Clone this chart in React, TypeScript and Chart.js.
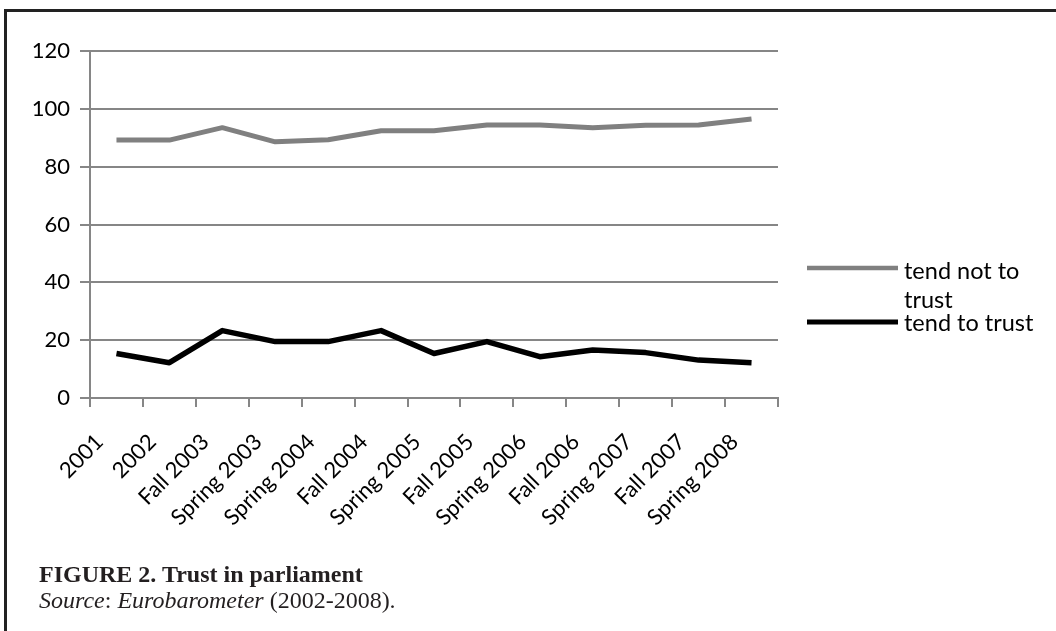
import React, { useEffect, useRef } from "react";
import { Chart, registerables } from "chart.js";

Chart.register(...registerables);

const categories = [
  "2001",
  "2002",
  "Fall 2003",
  "Spring 2003",
  "Spring 2004",
  "Fall 2004",
  "Spring 2005",
  "Fall 2005",
  "Spring 2006",
  "Fall 2006",
  "Spring 2007",
  "Fall 2007",
  "Spring 2008",
];
const tendNotToTrust = [89.2, 89.2, 93.5, 88.6, 89.3, 92.4, 92.4, 94.4, 94.4, 93.5, 94.3, 94.4, 96.5];
const tendToTrust = [15.4, 12.2, 23.3, 19.5, 19.5, 23.3, 15.4, 19.5, 14.3, 16.6, 15.7, 13.1, 12.2];
const yMin = 0;
const yMax = 120;
const yStep = 20;
const seriesNames = ["tend not to trust", "tend to trust"];
const legendLabelLines = [["tend not to", "trust"], ["tend to trust"]];
const seriesColors = ["#808080", "#000000"];

const FONT = "Lato, 'Open Sans', sans-serif";
const AXIS_GRAY = "#868686";

const legendPlugin = {
  id: "excelLegend",
  afterDraw(chart: any) {
    const { ctx, chartArea } = chart;
    const x0 = chartArea.right + 29;
    const lineLen = 91;
    const textX = x0 + lineLen + 6;
    const items = [
      { lineY: chartArea.top + 217, baselines: [chartArea.top + 228, chartArea.top + 257] },
      { lineY: chartArea.top + 271, baselines: [chartArea.top + 280] },
    ];
    ctx.save();
    chart.data.datasets.forEach((ds: any, i: number) => {
      const it = items[i];
      ctx.strokeStyle = ds.borderColor;
      ctx.lineWidth = i === 0 ? 4.5 : 5;
      ctx.lineCap = "butt";
      ctx.beginPath();
      ctx.moveTo(x0, it.lineY);
      ctx.lineTo(x0 + lineLen, it.lineY);
      ctx.stroke();
      ctx.fillStyle = "#000";
      ctx.font = `23.5px ${FONT}`;
      ctx.textAlign = "left";
      ctx.textBaseline = "alphabetic";
      legendLabelLines[i].forEach((t, j) => {
        ctx.fillText(t, textX, it.baselines[j]);
      });
    });
    ctx.restore();
  },
};

export default function App() {
  const canvasRef = useRef<HTMLCanvasElement | null>(null);

  useEffect(() => {
    document.body.style.margin = "0";
    const canvas = canvasRef.current;
    if (!canvas) return;
    const chart = new Chart(canvas, {
      type: "line",
      data: {
        labels: categories,
        datasets: [
          {
            label: seriesNames[0],
            data: tendNotToTrust,
            borderColor: seriesColors[0],
            backgroundColor: seriesColors[0],
            borderWidth: 5,
            pointRadius: 0,
            tension: 0,
            borderJoinStyle: "round",
            borderCapStyle: "butt",
          },
          {
            label: seriesNames[1],
            data: tendToTrust,
            borderColor: seriesColors[1],
            backgroundColor: seriesColors[1],
            borderWidth: 5.5,
            pointRadius: 0,
            tension: 0,
            borderJoinStyle: "round",
            borderCapStyle: "butt",
          },
        ],
      },
      options: {
        responsive: false,
        animation: false,
        events: [],
        layout: { padding: { left: 0, top: 51, right: 278, bottom: 8 } },
        plugins: {
          legend: { display: false },
          tooltip: { enabled: false },
          title: { display: false },
        },
        scales: {
          x: {
            type: "category",
            offset: true,
            afterFit: (s: any) => {
              s.height = 225;
            },
            grid: {
              offset: true,
              drawOnChartArea: false,
              drawTicks: true,
              tickLength: 9,
              color: AXIS_GRAY,
              lineWidth: 2,
            },
            border: { display: true, color: AXIS_GRAY, width: 2 },
            ticks: {
              autoSkip: false,
              maxRotation: 45,
              minRotation: 45,
              color: "#000",
              padding: 22,
              labelOffset: -17,
              font: { family: FONT, size: 22 },
            },
          },
          y: {
            min: yMin,
            max: yMax,
            afterFit: (s: any) => {
              s.width = 90;
            },
            grid: {
              color: AXIS_GRAY,
              lineWidth: 2,
              drawTicks: true,
              tickLength: 10,
            },
            border: { display: true, color: AXIS_GRAY, width: 2 },
            ticks: {
              stepSize: yStep,
              color: "#000",
              padding: 10,
              font: { family: FONT, size: 22 },
            },
          },
        },
      },
      plugins: [legendPlugin],
    });
    return () => chart.destroy();
  }, []);

  return (
    <div style={{ position: "absolute", left: 0, top: 0, width: 1056, height: 631, background: "#fff", overflow: "hidden" }}>
      <canvas ref={canvasRef} width={1056} height={631} style={{ position: "absolute", left: 0, top: 0 }} />
      <div
        style={{
          position: "absolute",
          left: 4,
          top: 9,
          width: 1060,
          height: 630,
          borderTop: "3px solid #222",
          borderLeft: "3px solid #222",
          pointerEvents: "none",
        }}
      />
      <div
        style={{
          position: "absolute",
          left: 39,
          top: 561,
          fontFamily: "'Liberation Serif', 'Times New Roman', serif",
          fontSize: 24,
          lineHeight: "26px",
          color: "#231f20",
          whiteSpace: "nowrap",
        }}
      >
        <div style={{ fontWeight: "bold" }}>FIGURE 2. Trust in parliament</div>
        <div>
          <i>Source</i>: <i>Eurobarometer</i> (2002-2008).
        </div>
      </div>
    </div>
  );
}
